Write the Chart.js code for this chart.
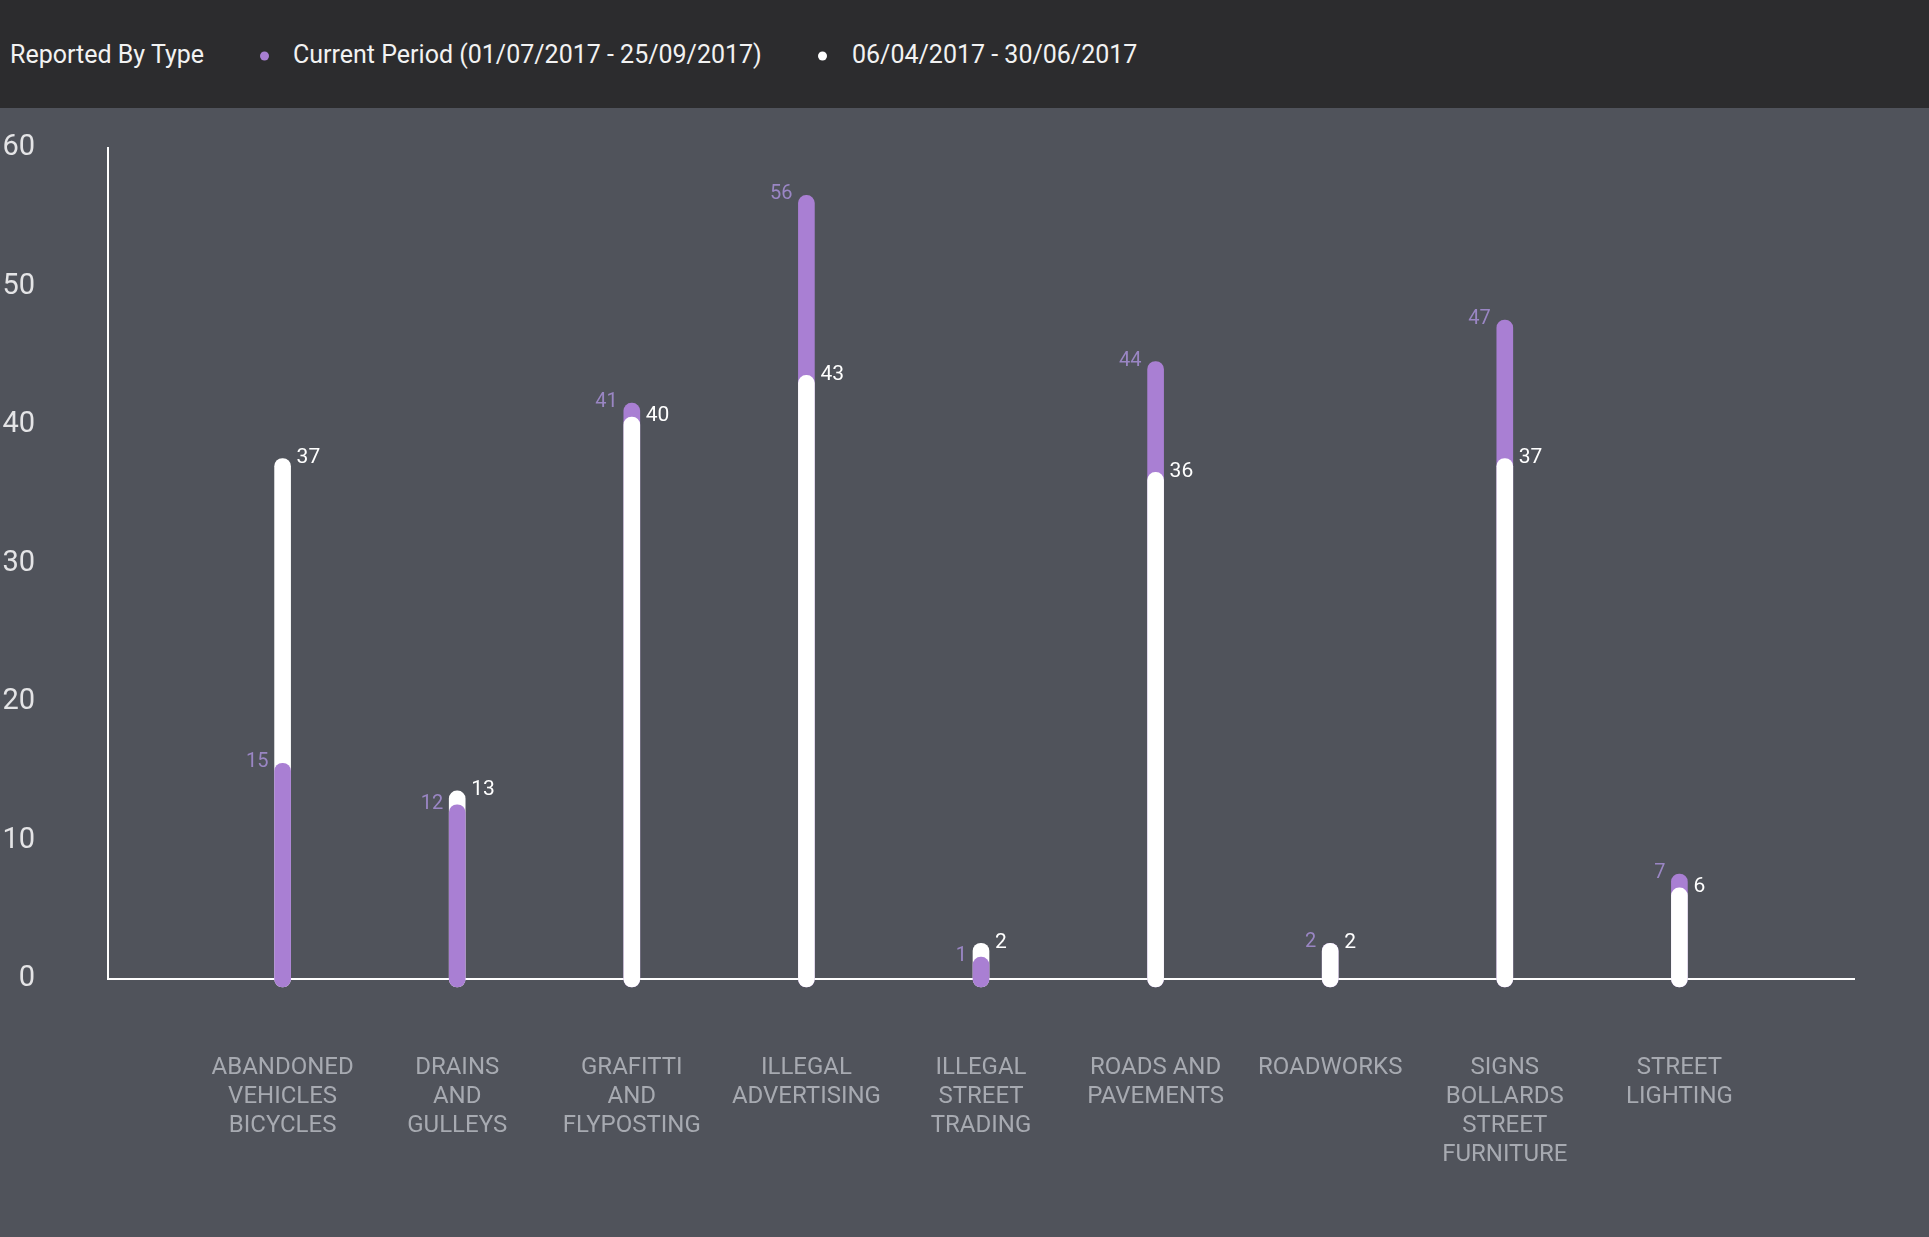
<!DOCTYPE html>
<html>
<head>
<meta charset="utf-8">
<script src="https://cdn.jsdelivr.net/npm/chart.js@4.4.0/dist/chart.umd.min.js"></script>
<style>
  html, body { margin: 0; padding: 0; background: #50535b; overflow: hidden; }
  #header {
    height: 108px; background: #2c2c2e; color: #f2f2f2;
    font-family: Roboto, sans-serif; font-size: 25px;
    position: relative;
  }
  #header span { position: absolute; top: 54px; transform: translateY(-50%); white-space: nowrap; }
  .dot { width: 9px; height: 9px; border-radius: 50%; display: inline-block; vertical-align: middle; }
  #wrap { width: 1929px; height: 1129px; position: relative; }
</style>
</head>
<body>
<div id="header">
  <span style="left:10px">Reported By Type</span>
  <span style="left:260px"><i class="dot" style="background:#a97fd3"></i></span>
  <span style="left:293px">Current Period (01/07/2017 - 25/09/2017)</span>
  <span style="left:818px"><i class="dot" style="background:#ffffff"></i></span>
  <span style="left:852px">06/04/2017 - 30/06/2017</span>
</div>
<div id="wrap"><canvas id="myChart"></canvas></div>
<script>
// categories and values
const categories = [
  ['ABANDONED', 'VEHICLES', 'BICYCLES'],
  ['DRAINS', 'AND', 'GULLEYS'],
  ['GRAFITTI', 'AND', 'FLYPOSTING'],
  ['ILLEGAL', 'ADVERTISING'],
  ['ILLEGAL', 'STREET', 'TRADING'],
  ['ROADS AND', 'PAVEMENTS'],
  ['ROADWORKS'],
  ['SIGNS', 'BOLLARDS', 'STREET', 'FURNITURE'],
  ['STREET', 'LIGHTING']
];
const currentPeriod = [15, 12, 41, 56, 1, 44, 2, 47, 7];
const previousPeriod = [37, 13, 40, 43, 2, 36, 2, 37, 6];
const yTicks = [0, 10, 20, 30, 40, 50, 60];

const purple = '#a97fd3';
const purpleText = '#9a86c4';
const cap = 8; // round cap sticks out past both ends of a bar

// empty slot on each side so the bars sit at 1..9 of 0..10
const labels = [''].concat(categories, ['']);
const pad = arr => [null].concat(arr, [null]);

// draw a bar with its round caps sticking out, like a thick line with round ends
function drawBar(el, ctx) {
  const y = el.y, base = el.base;
  el.y = y - cap;
  el.base = base + cap;
  el.draw(ctx);
  el.y = y;
  el.base = base;
}

// the taller bar goes first at each category, the shorter one on top
const orderPlugin = {
  id: 'orderBars',
  beforeDatasetsDraw(chart) {
    const ctx = chart.ctx;
    const cur = chart.getDatasetMeta(0).data;
    const prev = chart.getDatasetMeta(1).data;
    for (let i = 1; i <= categories.length; i++) {
      const c = currentPeriod[i - 1], p = previousPeriod[i - 1];
      if (c >= p) { drawBar(cur[i], ctx); drawBar(prev[i], ctx); }
      else { drawBar(prev[i], ctx); drawBar(cur[i], ctx); }
    }
    return false;
  },
  afterDraw(chart) {
    const ctx = chart.ctx;
    const cur = chart.getDatasetMeta(0).data;
    const prev = chart.getDatasetMeta(1).data;
    ctx.save();
    ctx.textBaseline = 'middle';
    for (let i = 1; i <= categories.length; i++) {
      const a = cur[i], b = prev[i];
      ctx.font = '20px Roboto';
      ctx.fillStyle = purpleText;
      ctx.textAlign = 'right';
      ctx.fillText(currentPeriod[i - 1], a.x - a.width / 2 - 6, a.y - 9);
      ctx.font = '21px Roboto';
      ctx.fillStyle = '#ffffff';
      ctx.textAlign = 'left';
      ctx.fillText(previousPeriod[i - 1], b.x + b.width / 2 + 6, b.y - 9);
    }
    ctx.restore();
  }
};

const myChart = document.getElementById('myChart');

new Chart(myChart, {
  type: 'bar',
  data: {
    labels: labels,
    datasets: [
      {
        label: 'Current Period (01/07/2017 - 25/09/2017)',
        data: pad(currentPeriod),
        backgroundColor: purple,
        grouped: false,
        barThickness: 16,
        borderRadius: 8,
        borderSkipped: false
      },
      {
        label: '06/04/2017 - 30/06/2017',
        data: pad(previousPeriod),
        backgroundColor: '#ffffff',
        grouped: false,
        barThickness: 16,
        borderRadius: 8,
        borderSkipped: false
      }
    ]
  },
  options: {
    responsive: true,
    maintainAspectRatio: false,
    animation: false,
    layout: { padding: { top: 40, right: 75, bottom: 0, left: 3 } },
    plugins: {
      legend: { display: false },
      tooltip: { enabled: false }
    },
    scales: {
      x: {
        offset: false,
        grid: { display: false },
        border: { display: true, color: '#ffffff', width: 2 },
        ticks: {
          autoSkip: false,
          maxRotation: 0,
          padding: 67,
          color: '#a7aab1',
          font: { family: 'Roboto', size: 24, lineHeight: 1.2 }
        },
        afterFit(scale) { scale.height = 258; }
      },
      y: {
        min: 0,
        max: 60,
        afterBuildTicks(scale) { scale.ticks = yTicks.map(v => ({ value: v })); },
        grid: { display: false, drawTicks: false },
        border: { display: true, color: '#ffffff', width: 2 },
        ticks: {
          padding: 73,
          color: '#e4e4e6',
          font: { family: 'Roboto', size: 29 }
        },
        // keep the tick padding from pushing the plot down
        afterFit(scale) {
          scale.width = 105;
          scale.paddingTop = 16;
          scale.paddingBottom = 16;
        }
      }
    }
  },
  plugins: [orderPlugin]
});
</script>
</body>
</html>
